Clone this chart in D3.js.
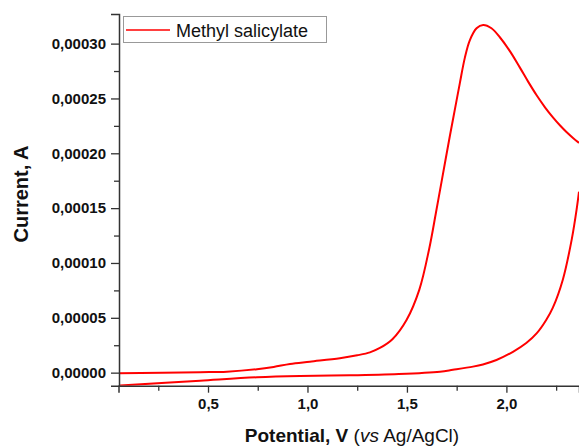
<!DOCTYPE html>
<html>
<head>
<meta charset="utf-8">
<script src="https://cdn.jsdelivr.net/npm/d3@7"></script>
<style>
  body { margin: 0; background: #fff; }
  svg { display: block; font-family: "Liberation Sans", Arial, sans-serif; }
</style>
</head>
<body>
<svg width="579" height="448"></svg>
<script>
const svg = d3.select("svg");

// forward (anodic) scan, potential in V and current in µA
const forwardV = [0.052, 0.46, 0.595, 0.746, 0.83, 0.912, 1.012, 1.163, 1.25, 1.314, 1.364, 1.427, 1.498, 1.562, 1.612, 1.646, 1.676, 1.716, 1.741, 1.766, 1.791, 1.816, 1.850, 1.883, 1.925, 1.967, 2.02, 2.068, 2.11, 2.152, 2.195, 2.235, 2.27, 2.302, 2.335, 2.365];
const forwardI = [-0.5, 0.4, 0.9, 3.1, 5.2, 7.9, 10.0, 13.1, 15.8, 18.5, 22.5, 30.5, 48, 75.5, 113, 146, 176, 216, 240, 264, 287, 303, 314, 317, 314, 305.8, 292.5, 278.1, 265.1, 252.9, 241.7, 232.5, 225.3, 219.4, 214, 209.5];

// reverse scan
const reverseV = [0.058, 0.46, 0.746, 0.962, 1.213, 1.459, 1.666, 1.731, 1.832, 1.882, 1.95, 2.033, 2.10, 2.153, 2.20, 2.233, 2.284, 2.329, 2.354, 2.365];
const reverseI = [-11.8, -7.3, -4.2, -3.0, -2.4, -1.2, 0.9, 2.6, 5.5, 7.5, 11.5, 19, 27, 36, 48, 59, 85, 122, 150, 165];

const xTicks = [0.5, 1.0, 1.5, 2.0];
const xMinor = [0.25, 0.75, 1.25, 1.75, 2.25];
const yTicks = [0, 0.00005, 0.0001, 0.00015, 0.0002, 0.00025, 0.0003];
const yMinor = [0.000025, 0.000075, 0.000125, 0.000175, 0.000225, 0.000275];

const seriesName = "Methyl salicylate";

const x = d3.scaleLinear().domain([0.05, 2.365]).range([118.5, 579]);
const y = d3.scaleLinear().domain([-0.0000119, 0.000327]).range([385.7, 14]);

const comma = f => v => f(v).replace(".", ",");

svg.append("defs").append("clipPath").attr("id", "plot")
    .append("rect")
    .attr("x", 119).attr("y", 14)
    .attr("width", 579 - 119).attr("height", 385.7 - 14);

const line = d3.line()
    .x(d => x(d[0]))
    .y(d => y(d[1] * 1e-6))
    .curve(d3.curveCatmullRom.alpha(0.5));

const fwd = forwardV.map((v, i) => [v, forwardI[i]]);
const rev = reverseV.map((v, i) => [v, reverseI[i]]);

const curves = svg.append("g").attr("clip-path", "url(#plot)");
[fwd, rev].forEach(d => {
    curves.append("path")
        .datum(d)
        .attr("fill", "none")
        .attr("stroke", "#ff0000")
        .attr("stroke-width", 2)
        .attr("d", line);
});

// minor ticks
svg.append("g")
    .attr("transform", "translate(119,0)")
    .call(d3.axisLeft(y).tickValues(yMinor).tickSize(5).tickFormat(""))
    .call(g => g.select(".domain").remove());
svg.append("g")
    .attr("transform", "translate(0,385.7)")
    .call(d3.axisBottom(x).tickValues(xMinor).tickSize(5).tickFormat(""))
    .call(g => g.select(".domain").remove());

svg.append("g")
    .attr("transform", "translate(119,0)")
    .call(d3.axisLeft(y).tickValues(yTicks).tickSize(8).tickPadding(5).tickFormat(comma(d3.format(".5f"))));

svg.append("g")
    .attr("transform", "translate(0,385.7)")
    .call(d3.axisBottom(x).tickValues(xTicks).tickSize(7).tickPadding(6).tickFormat(comma(d3.format(".1f"))));

svg.selectAll(".tick line").attr("stroke", "#333").attr("stroke-width", 1.3);
svg.selectAll(".domain").attr("stroke", "#333").attr("stroke-width", 1.5);
svg.selectAll(".tick text")
    .attr("fill", "#111")
    .style("font-size", "15px")
    .style("font-weight", "bold")
    .style("font-family", "'Liberation Sans', Arial, sans-serif");

// axis titles
svg.append("text")
    .attr("transform", "translate(28,194) rotate(-90)")
    .attr("text-anchor", "middle")
    .style("font-size", "20px")
    .style("font-weight", "bold")
    .attr("fill", "#111")
    .text("Current, A");

const xt = svg.append("text")
    .attr("x", 352)
    .attr("y", 442)
    .attr("text-anchor", "middle")
    .style("font-size", "19px")
    .attr("fill", "#111");
xt.append("tspan").style("font-weight", "bold").text("Potential, V ");
xt.append("tspan").text("(");
xt.append("tspan").style("font-style", "italic").text("vs");
xt.append("tspan").text(" Ag/AgCl)");

// legend
const legend = svg.append("g");
legend.append("rect")
    .attr("x", 123.5).attr("y", 16.5)
    .attr("width", 203).attr("height", 26)
    .attr("fill", "#fff")
    .attr("stroke", "#999");
legend.append("line")
    .attr("x1", 126).attr("x2", 170)
    .attr("y1", 30).attr("y2", 30)
    .attr("stroke", "#ff0000").attr("stroke-width", 1.5);
legend.append("text")
    .attr("x", 176).attr("y", 37)
    .style("font-size", "18px")
    .attr("fill", "#111")
    .text(seriesName);
</script>
</body>
</html>
